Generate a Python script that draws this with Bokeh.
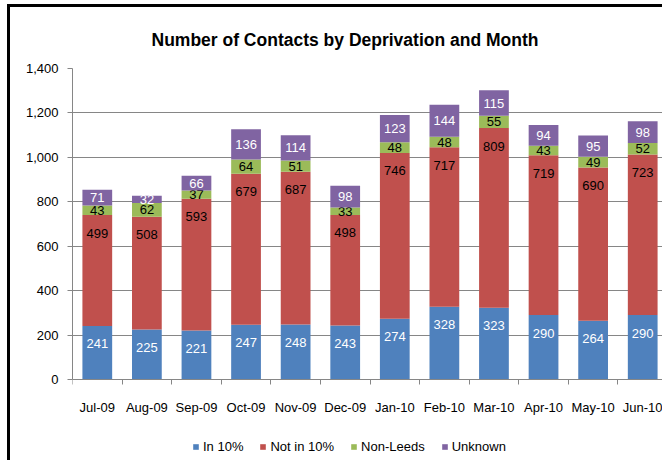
from bokeh.plotting import figure
from bokeh.models import (Range1d, FixedTicker, ColumnDataSource, Legend, LegendItem,
                          NumeralTickFormatter, Div)
from bokeh.layouts import column, row
from bokeh.core.properties import value
from bokeh.embed import file_html
from bokeh.resources import INLINE

# ---------------- data ----------------
months = ["Jul-09", "Aug-09", "Sep-09", "Oct-09", "Nov-09", "Dec-09",
          "Jan-10", "Feb-10", "Mar-10", "Apr-10", "May-10", "Jun-10"]
in_10 = [241, 225, 221, 247, 248, 243, 274, 328, 323, 290, 264, 290]
not_in_10 = [499, 508, 593, 679, 687, 498, 746, 717, 809, 719, 690, 723]
non_leeds = [43, 62, 37, 64, 51, 33, 48, 48, 55, 43, 49, 52]
unknown = [71, 32, 66, 136, 114, 98, 123, 144, 115, 94, 95, 98]

series_names = ["In 10%", "Not in 10%", "Non-Leeds", "Unknown"]
series_values = [in_10, not_in_10, non_leeds, unknown]
y_ticks = [0, 200, 400, 600, 800, 1000, 1200, 1400]
title_text = "Number of Contacts by Deprivation and Month"

# ---------------- styling / layout ----------------
colors = ["#4F81BD", "#C0504D", "#9BBB59", "#8064A2"]
label_colors = ["white", "black", "black", "white"]
FONT = "Liberation Sans"
GRID = "#868686"

PAGE_W, PAGE_H = 662, 460
EDGE_X, EDGE_Y = 7, 4          # offset of the black frame edges
EDGE_T = 3                     # thickness of the black frame edges
FIG_W = PAGE_W - EDGE_X - EDGE_T
FIG_H = PAGE_H - EDGE_Y - EDGE_T
LEFT, TOP, BOTTOM = 72 - EDGE_X - EDGE_T, 68 - EDGE_Y - EDGE_T, 6
PLOT_PX = 311                 # pixel height of the 0..Y_MAX value span
CAT_PX = 595 / 12             # pixel width of one month slot
Y_MAX = 1400
FRAME_PX = FIG_H - TOP - BOTTOM
PX_PER_UNIT = PLOT_PX / Y_MAX
Y_MIN = -(FRAME_PX - PLOT_PX) / PX_PER_UNIT
X_END = (FIG_W - LEFT) / CAT_PX
LABEL_INSET = 18 / PX_PER_UNIT   # data labels sit at most 18px below segment top
MONTH_DROP = 27.5 / PX_PER_UNIT  # month labels centre below the zero line

x_centers = [i + 0.5 for i in range(len(months))]
boundaries = list(range(len(months) + 1))

p = figure(width=FIG_W, height=FIG_H, output_backend="svg", toolbar_location=None,
           x_range=Range1d(0, X_END), y_range=Range1d(Y_MIN, Y_MAX),
           min_border_left=LEFT, min_border_right=0, min_border_top=TOP,
           min_border_bottom=BOTTOM, title=title_text, margin=0)
p.outline_line_color = None
p.background_fill_color = "white"
p.border_fill_color = "white"

p.title.align = "left"
p.title.offset = 79
p.title.standoff = 38
p.title.text_font = FONT
p.title.text_font_size = "17.5px"
p.title.text_font_style = "bold"
p.title.text_color = "black"

renderers = []
bottom = [0] * len(months)
for name, vals, col, lcol in zip(series_names, series_values, colors, label_colors):
    top = [b + v for b, v in zip(bottom, vals)]
    ly = [t - min(v / 2.0, LABEL_INSET) for t, v in zip(top, vals)]
    src = ColumnDataSource(dict(x=x_centers, bottom=bottom, top=top, ly=ly,
                                txt=[str(v) for v in vals]))
    r = p.vbar(x="x", bottom="bottom", top="top", width=0.6, source=src,
               fill_color=col, line_color=None)
    p.text(x="x", y="ly", text="txt", source=src, text_align="center",
           text_baseline="middle", text_color=lcol, text_font=value(FONT),
           text_font_size="13px")
    renderers.append(r)
    bottom = top

# month labels under the zero line
msrc = ColumnDataSource(dict(x=x_centers, y=[-MONTH_DROP] * len(months), txt=months))
p.text(x="x", y="y", text="txt", source=msrc, text_align="center",
       text_baseline="middle", text_color="black", text_font=value(FONT),
       text_font_size="13px")

# x axis drawn at value 0 with category-boundary ticks
xa = p.xaxis[0]
xa.fixed_location = 0
xa.ticker = FixedTicker(ticks=[], minor_ticks=boundaries)
xa.major_tick_out = 0
xa.major_tick_in = 0
xa.major_label_standoff = 0
xa.minor_tick_in = 0
xa.minor_tick_out = 5
xa.minor_tick_line_color = GRID
xa.axis_line_color = GRID

ya = p.yaxis[0]
ya.ticker = FixedTicker(ticks=y_ticks)
ya.formatter = NumeralTickFormatter(format="0,0")
ya.bounds = (0, Y_MAX)
ya.minor_tick_line_color = None
ya.major_tick_in = 0
ya.major_tick_out = 5
ya.major_tick_line_color = GRID
ya.axis_line_color = GRID
ya.major_label_standoff = 9
ya.major_label_text_font = FONT
ya.major_label_text_font_size = "13px"
ya.major_label_text_color = "black"

p.xgrid.grid_line_color = None
p.ygrid.grid_line_color = GRID
p.ygrid.grid_line_width = 1

legend = Legend(items=[LegendItem(label=n, renderers=[r]) for n, r in zip(series_names, renderers)],
                orientation="horizontal", location=(120, 0),
                glyph_width=7, glyph_height=7, label_standoff=4, spacing=16,
                padding=0, margin=0, border_line_color=None,
                background_fill_alpha=0, label_text_font=FONT,
                label_text_font_size="13px", label_height=13, label_text_color="black")
p.add_layout(legend)

# black frame edges of the surrounding document (top and left)
top_edge = Div(text="", width=PAGE_W - EDGE_X, height=EDGE_T, margin=(EDGE_Y, 0, 0, EDGE_X),
               styles={"background-color": "black"})
left_edge = Div(text="", width=EDGE_T, height=FIG_H, margin=(0, 0, 0, EDGE_X),
                styles={"background-color": "black"})
layout = column(top_edge, row(left_edge, p, spacing=0), spacing=0)

open("out.html", "w").write(file_html(layout, INLINE))
